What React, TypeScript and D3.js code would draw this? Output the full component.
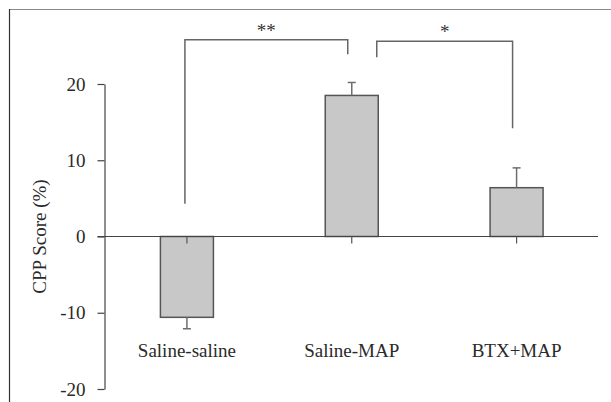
import React, { useRef, useEffect } from 'react';
import * as d3 from 'd3';

const categories = ['Saline-saline', 'Saline-MAP', 'BTX+MAP'];
const means = [-10.6, 18.5, 6.4];
const sems = [1.5, 1.7, 2.6];
const yTicks = [-20, -10, 0, 10, 20];

// significance brackets: category indices, label, leg end values and top value
const bracketPairs = [
  [0, 1],
  [1, 2],
];
const bracketLabels = ['**', '*'];
const bracketTops = [25.8, 25.6];
const bracketLegEnds = [
  [4.3, 23.9],
  [23.5, 14.2],
];

const App = () => {
  const ref = useRef<SVGSVGElement | null>(null);

  useEffect(() => {
    if (!ref.current) return;
    const svg = d3.select(ref.current);
    svg.selectAll('*').remove();

    const width = 611;
    const height = 402;
    const axisX = 104.5;
    const font = '"Liberation Serif", "DejaVu Serif", serif';
    const fontSize = '19px';

    const x = d3.scalePoint<string>()
      .domain(categories)
      .range([axisX, 599])
      .padding(0.5);

    const y = d3.scaleLinear()
      .domain([-20, 20])
      .range([389, 84]);

    const barWidth = 53;

    // frame
    svg.append('line')
      .attr('x1', 9).attr('x2', width)
      .attr('y1', 9.5).attr('y2', 9.5)
      .attr('stroke', '#8a8a8a').attr('stroke-width', 1.2);
    svg.append('line')
      .attr('x1', 9.5).attr('x2', 9.5)
      .attr('y1', 9).attr('y2', height)
      .attr('stroke', '#333').attr('stroke-width', 1.2);

    // y axis
    const yAxis = svg.append('g')
      .attr('transform', `translate(${axisX},0)`)
      .call(d3.axisLeft(y)
        .tickValues(yTicks)
        .tickFormat(d => String(d))
        .tickSize(7)
        .tickSizeOuter(0)
        .tickPadding(12));
    yAxis.select('.domain').attr('stroke', '#444').attr('stroke-width', 1.2);
    yAxis.selectAll('.tick line').attr('stroke', '#444').attr('stroke-width', 1.2);
    yAxis.selectAll('.tick text')
      .style('font-family', font)
      .style('font-size', fontSize)
      .attr('fill', '#2a2a2a');

    // bars
    svg.append('g')
      .selectAll('rect')
      .data(means)
      .join('rect')
      .attr('x', (d, i) => (x(categories[i]) as number) - barWidth / 2)
      .attr('width', barWidth)
      .attr('y', d => y(Math.max(0, d)))
      .attr('height', d => Math.abs(y(d) - y(0)))
      .attr('fill', '#c8c8c9')
      .attr('stroke', '#555')
      .attr('stroke-width', 1.5);

    // error bars (drawn away from zero)
    const err = svg.append('g').attr('stroke', '#6e6e6e').attr('stroke-width', 1.5);
    means.forEach((m, i) => {
      const cx = x(categories[i]) as number;
      const end = m + Math.sign(m) * sems[i];
      err.append('line')
        .attr('x1', cx).attr('x2', cx)
        .attr('y1', y(m)).attr('y2', y(end));
      err.append('line')
        .attr('x1', cx - 4).attr('x2', cx + 4)
        .attr('y1', y(end)).attr('y2', y(end));
    });

    // zero line with category ticks
    svg.append('line')
      .attr('x1', axisX - 7).attr('x2', 598)
      .attr('y1', y(0)).attr('y2', y(0))
      .attr('stroke', '#444').attr('stroke-width', 1.2);
    categories.forEach(c => {
      const cx = x(c) as number;
      svg.append('line')
        .attr('x1', cx).attr('x2', cx)
        .attr('y1', y(0)).attr('y2', y(0) + 7)
        .attr('stroke', '#555').attr('stroke-width', 1.2);
    });

    // category labels
    svg.append('g')
      .selectAll('text')
      .data(categories)
      .join('text')
      .attr('x', d => x(d) as number)
      .attr('y', 357)
      .attr('text-anchor', 'middle')
      .style('font-family', font)
      .style('font-size', fontSize)
      .attr('fill', '#2a2a2a')
      .text(d => d);

    // y label
    svg.append('text')
      .attr('transform', `translate(46,${y(0)}) rotate(-90)`)
      .attr('text-anchor', 'middle')
      .style('font-family', font)
      .style('font-size', fontSize)
      .attr('fill', '#2a2a2a')
      .text('CPP Score (%)');

    // significance brackets
    const offsets = [
      [-2, -4],
      [25, -4],
    ];
    bracketPairs.forEach(([a, b], i) => {
      const x1 = (x(categories[a]) as number) + offsets[i][0];
      const x2 = (x(categories[b]) as number) + offsets[i][1];
      const top = y(bracketTops[i]);
      const path = d3.path();
      path.moveTo(x1, y(bracketLegEnds[i][0]));
      path.lineTo(x1, top);
      path.lineTo(x2, top);
      path.lineTo(x2, y(bracketLegEnds[i][1]));
      svg.append('path')
        .attr('d', path.toString())
        .attr('fill', 'none')
        .attr('stroke', '#666')
        .attr('stroke-width', 1.5);
      svg.append('text')
        .attr('x', (x1 + x2) / 2)
        .attr('y', top - 3)
        .attr('text-anchor', 'middle')
        .style('font-family', font)
        .style('font-size', fontSize)
        .attr('fill', '#333')
        .text(bracketLabels[i]);
    });
  }, []);

  return (
    <svg
      ref={ref}
      width={611}
      height={402}
      style={{ position: 'absolute', left: 0, top: 0, background: '#fff' }}
    />
  );
};

export default App;
